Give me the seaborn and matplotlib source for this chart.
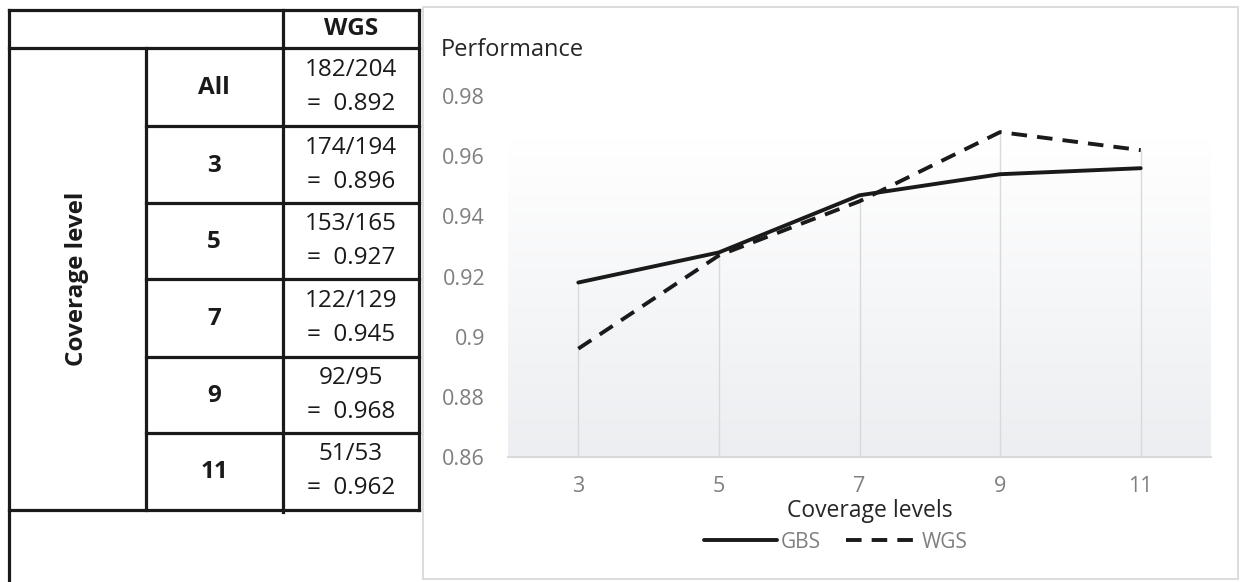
import numpy as np
import pandas as pd
import seaborn as sns
import matplotlib.pyplot as plt
from matplotlib.colors import LinearSegmentedColormap
from matplotlib.patches import Rectangle

# chart data
coverage = [3, 5, 7, 9, 11]
gbs = [0.918, 0.928, 0.947, 0.954, 0.956]
wgs = [0.896, 0.927, 0.945, 0.968, 0.962]

# table data
row_labels = ["All", "3", "5", "7", "9", "11"]
wgs_hits = [182, 174, 153, 122, 92, 51]
wgs_totals = [204, 194, 165, 129, 95, 53]
wgs_ratio = ["0.892", "0.896", "0.927", "0.945", "0.968", "0.962"]

sns.set_theme(style="white")
plt.rcParams["font.family"] = ["Open Sans", "DejaVu Sans"]

W, H = 1240, 582
fig = plt.figure(figsize=(W / 100, H / 100), dpi=100)

# overlay in pixel coords for the table and the chart frame
over = fig.add_axes([0, 0, 1, 1])
over.set_xlim(0, W)
over.set_ylim(H, 0)
over.axis("off")

ink = "#1a1a1a"
lw_tab = 2.3
row_edges = [48, 126, 203, 279, 357, 433, 510]

def hline(y, x0, x1):
    over.plot([x0, x1], [y, y], color=ink, lw=lw_tab, solid_capstyle="projecting")

def vline(x, y0, y1):
    over.plot([x, x], [y0, y1], color=ink, lw=lw_tab, solid_capstyle="projecting")

hline(10, 9, 419)
hline(48, 9, 419)
hline(510, 9, 419)
for y in row_edges[1:-1]:
    hline(y, 146, 419)
vline(9, 10, 582)
vline(146, 48, 510)
vline(283, 10, 512)
vline(419, 10, 510)

fs_tab = 17.5
over.text(351, 29, "WGS", ha="center", va="center", fontsize=fs_tab, fontweight="bold", color=ink)
over.text(77, 279, "Coverage level", ha="center", va="center", rotation=90,
          fontsize=fs_tab, fontweight="bold", color=ink)
for i, lab in enumerate(row_labels):
    mid = (row_edges[i] + row_edges[i + 1]) / 2
    over.text(214, mid + 1, lab, ha="center", va="center", fontsize=fs_tab, fontweight="bold", color=ink)
    over.text(351, mid - 17, f"{wgs_hits[i]}/{wgs_totals[i]}", ha="center", va="center",
              fontsize=fs_tab, color=ink)
    over.text(351, mid + 17, f"=  {wgs_ratio[i]}", ha="center", va="center",
              fontsize=fs_tab, color=ink)

over.add_patch(Rectangle((423, 7), 815, 572, fill=False, edgecolor="#d9d9d9", lw=1.3))

# line chart
ax = fig.add_axes([508 / W, (H - 457) / H, (1211 - 508) / W, (457 - 96) / H])
ax.patch.set_alpha(0)

cmap = LinearSegmentedColormap.from_list("fill", ["#ffffff", "#eceef1"])
grad = np.linspace(0, 1, 256).reshape(-1, 1)
ax.imshow(grad, cmap=cmap, extent=[2, 12, 0.86, 0.966], aspect="auto", origin="upper", zorder=0)

ax.vlines(coverage, 0.86, np.maximum(gbs, wgs), color="#d9d9d9", lw=1, zorder=1)

df = pd.DataFrame({
    "coverage": coverage * 2,
    "performance": gbs + wgs,
    "series": ["GBS"] * len(coverage) + ["WGS"] * len(coverage),
})
sns.lineplot(data=df, x="coverage", y="performance", hue="series", style="series",
             palette={"GBS": ink, "WGS": ink}, dashes={"GBS": "", "WGS": (4, 2.6)},
             lw=2.8, ax=ax, zorder=3)

ax.set_xlim(2, 12)
ax.set_ylim(0.86, 0.98)
yt = np.arange(0.86, 0.981, 0.02)
ax.set_yticks(yt)
ax.set_yticklabels([f"{round(v, 2):g}" for v in yt])
ax.set_xticks(coverage)
ax.set_xticklabels([str(c) for c in coverage])
ax.tick_params(axis="y", length=0, pad=16.5, labelsize=15.5, labelcolor="#7f7f7f")
ax.tick_params(axis="x", length=0, pad=14, labelsize=15.5, labelcolor="#7f7f7f")
ax.set_xlabel("")
ax.set_ylabel("")
for s in ["left", "top", "right"]:
    ax.spines[s].set_visible(False)
ax.spines["bottom"].set_color("#d9d9d9")
ax.spines["bottom"].set_linewidth(1.5)

handles, labels = ax.get_legend_handles_labels()
leg = ax.legend(handles, labels, loc="center", bbox_to_anchor=(836 / W, (H - 542) / H),
                bbox_transform=fig.transFigure, ncol=2, frameon=False, fontsize=15,
                handlelength=3.5, handletextpad=0.15, columnspacing=1.2)
for line in leg.get_lines():
    line.set_linewidth(2.8)
    line.set_color(ink)
for t in leg.get_texts():
    t.set_color("#7f7f7f")

fig.text(870 / W, (H - 511) / H, "Coverage levels", ha="center", va="center",
         fontsize=16.5, color="#262626")
fig.text(441 / W, (H - 50) / H, "Performance", ha="left", va="center",
         fontsize=17, color="#262626")

fig.savefig("out.png", dpi=100)
